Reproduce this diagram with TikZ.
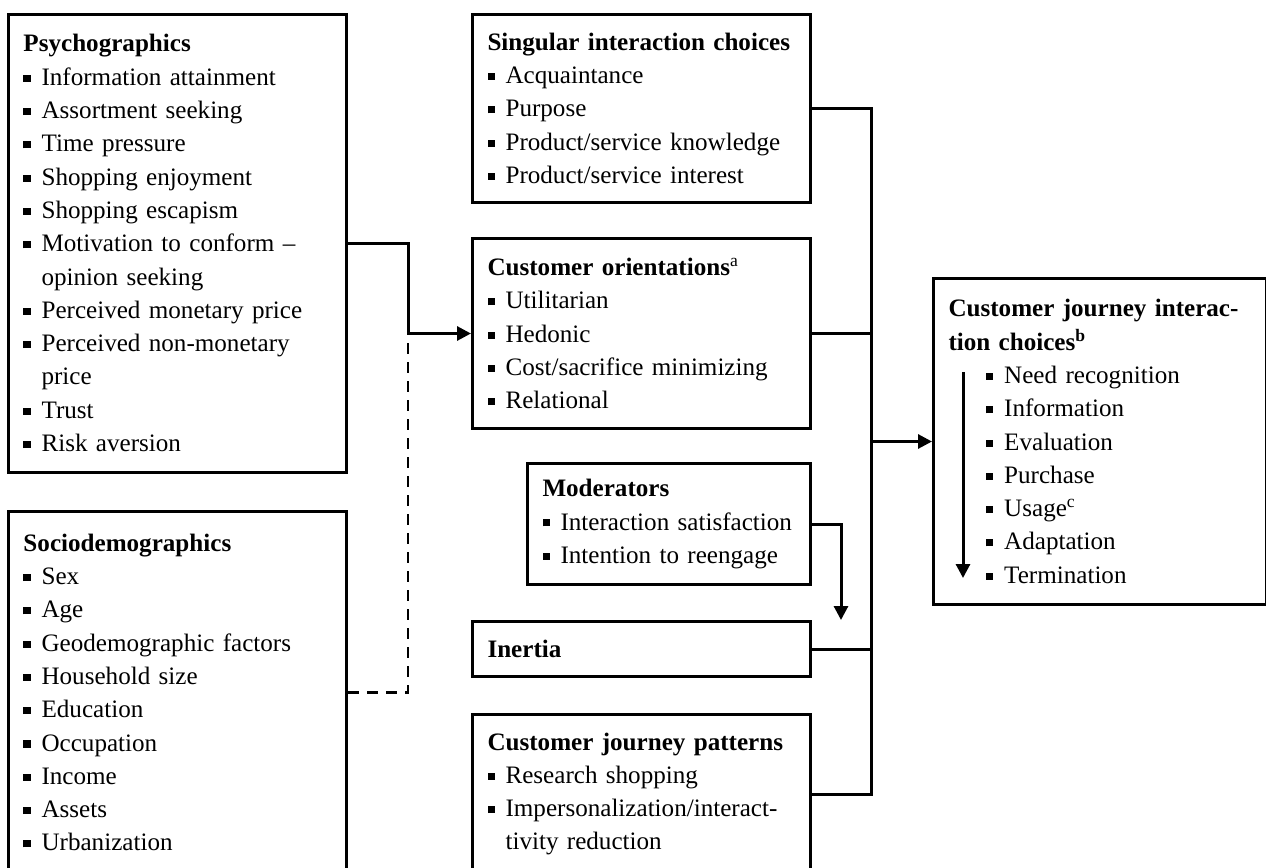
\documentclass[tikz,border=0pt]{standalone}
\usepackage{fontspec}
\setmainfont{Liberation Serif}
\usepackage{tikz}
\usetikzlibrary{arrows.meta}

\newcommand{\sq}{\makebox[0.72em][l]{\rule[0.14em]{0.28em}{0.28em}}}
\newcommand{\cont}{\hspace*{0.72em}}
\newcommand{\ind}{\hspace*{1.5em}}

\begin{document}
\begin{tikzpicture}[
    x=0.5pt, y=-0.5pt,
    box/.style={draw, line width=1.5pt, anchor=north west, inner xsep=7.5pt, inner ysep=2pt,
        align=left, font=\fontsize{12.55pt}{16.65pt}\selectfont},
    conn/.style={line width=1.5pt},
    arr/.style={line width=1.5pt, -{Triangle[length=7pt, width=7pt]}},
    dsh/.style={line width=1.3pt, dash pattern=on 5.5pt off 4pt},
]
\useasboundingbox (0,0) rectangle (1266,868);

\node[box, text width=154pt, minimum height=229pt] (psy) at (7,12.7) {%
\textbf{Psychographics}\\
\sq Information attainment\\
\sq Assortment seeking\\
\sq Time pressure\\
\sq Shopping enjoyment\\
\sq Shopping escapism\\
\sq Motivation to conform --\\
\cont opinion seeking\\
\sq Perceived monetary price\\
\sq Perceived non-monetary\\
\cont price\\
\sq Trust\\
\sq Risk aversion};

\node[box, text width=154pt, minimum height=181pt] (socio) at (7,510) {%
\textbf{Sociodemographics}\\
\sq Sex\\
\sq Age\\
\sq Geodemographic factors\\
\sq Household size\\
\sq Education\\
\sq Occupation\\
\sq Income\\
\sq Assets\\
\sq Urbanization};

\node[box, text width=154pt, minimum height=94pt] (sing) at (471,12.7) {%
\textbf{Singular interaction choices}\\
\sq Acquaintance\\
\sq Purpose\\
\sq Product/service knowledge\\
\sq Product/service interest};

\node[box, text width=154pt, minimum height=95pt] (ori) at (471,237) {%
\textbf{Customer orientations}\textsuperscript{a}\\
\sq Utilitarian\\
\sq Hedonic\\
\sq Cost/sacrifice minimizing\\
\sq Relational};

\node[box, text width=126.5pt, minimum height=60.5pt] (mod) at (526,462) {%
\textbf{Moderators}\\
\sq Interaction satisfaction\\
\sq Intention to reengage};

\node[box, text width=154pt, minimum height=27.5pt] (inert) at (471,620) {%
\textbf{Inertia}};

\node[box, text width=154pt, minimum height=79.5pt] (pat) at (471,713) {%
\textbf{Customer journey patterns}\\
\sq Research shopping\\
\sq Impersonalization/interact-\\
\cont tivity reduction};

\node[box, text width=151.5pt, minimum height=163pt] (cjc) at (932,277) {%
\textbf{Customer journey interac-}\\
\textbf{tion choices\textsuperscript{b}}\\
\ind\sq Need recognition\\
\ind\sq Information\\
\ind\sq Evaluation\\
\ind\sq Purchase\\
\ind\sq Usage\textsuperscript{c}\\
\ind\sq Adaptation\\
\ind\sq Termination};

\coordinate (jn) at (408,0);
\coordinate (bus) at (871,0);
\coordinate (modx) at (841,0);
\coordinate (stagetop) at (963,372);
\coordinate (stageend) at (963,578);

\draw[conn] (psy.east) -| (jn |- ori.west);
\draw[dsh] (socio.east) -| (jn |- ori.west);
\draw[arr] (jn |- ori.west) -- (ori.west);
\draw[conn] (sing.east) -| (bus |- pat.east) -- (pat.east);
\draw[conn] (ori.east) -- (ori.east -| bus);
\draw[conn] (inert.east) -- (inert.east -| bus);
\draw[arr] (bus |- cjc.west) -- (cjc.west);
\draw[arr] (mod.east) -| (modx |- inert.north);
\draw[arr] (stagetop) -- (stageend);
\end{tikzpicture}
\end{document}
